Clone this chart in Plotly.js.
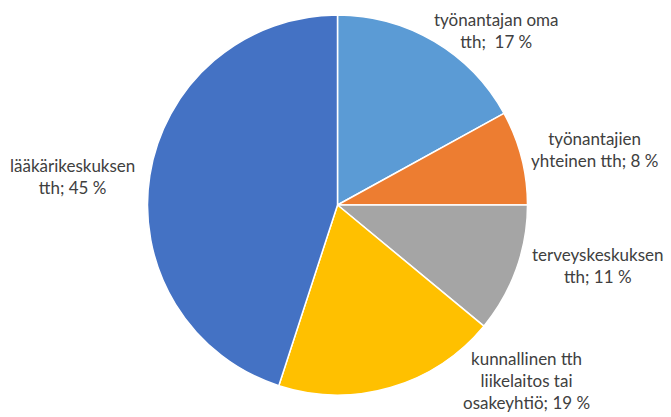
<!DOCTYPE html>
<html>
<head>
<meta charset="utf-8">
<script src="https://cdn.plot.ly/plotly-3.0.1.min.js"></script>
<style>html,body{margin:0;padding:0;background:#fff;}#chart{width:671px;height:417px;}</style>
</head>
<body>
<div id="chart"></div>
<script>
const categories = ["työnantajan oma tth", "työnantajien yhteinen tth", "terveyskeskuksen tth", "kunnallinen tth liikelaitos tai osakeyhtiö", "lääkärikeskuksen tth"];
const values = [17, 8, 11, 19, 45];
const labelTexts = [
  "työnantajan oma<br>tth;  17 %",
  "työnantajien<br>yhteinen tth; 8 %",
  "terveyskeskuksen<br>tth; 11 %",
  "kunnallinen tth<br>liikelaitos tai<br>osakeyhtiö; 19 %",
  "lääkärikeskuksen<br>tth; 45 %"
];
const colors = ["#5B9BD5", "#ED7D31", "#A5A5A5", "#FFC000", "#4472C4"];

const W = 671, H = 417;
const cx = 337.5, cy = 205, r = 190;
// label centre positions in pixels
const labelPos = [[496, 31], [594, 149], [598, 265], [526, 380], [72, 176]];

const annotations = labelTexts.map((t, i) => ({
  text: t,
  x: labelPos[i][0] / W,
  y: 1 - labelPos[i][1] / H,
  xref: "paper", yref: "paper",
  xanchor: "center", yanchor: "middle",
  showarrow: false,
  align: "center",
  font: {family: "Lato, 'Open Sans', sans-serif", size: 17, color: "#404040"}
}));

Plotly.newPlot("chart", [{
  type: "pie",
  labels: categories,
  values: values,
  sort: false,
  direction: "clockwise",
  rotation: 0,
  textinfo: "none",
  hoverinfo: "label+percent",
  marker: {colors: colors, line: {color: "#ffffff", width: 1.5}},
  domain: {x: [(cx - r) / W, (cx + r) / W], y: [1 - (cy + r) / H, 1 - (cy - r) / H]},
  showlegend: false
}], {
  width: W, height: H,
  margin: {l: 0, r: 0, t: 0, b: 0},
  paper_bgcolor: "#ffffff",
  showlegend: false,
  annotations: annotations
}, {displayModeBar: false, staticPlot: true});
</script>
</body>
</html>
